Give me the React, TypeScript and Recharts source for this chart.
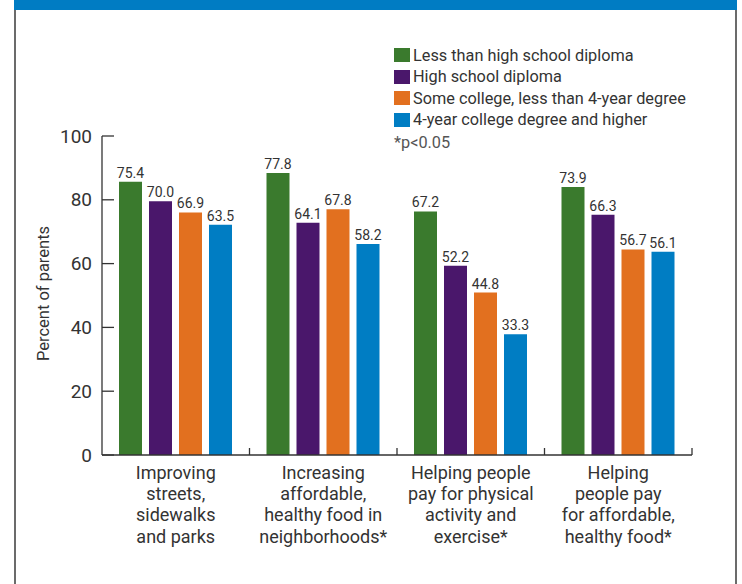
import React from 'react';
import { BarChart, Bar, XAxis, YAxis, LabelList, Legend } from 'recharts';

const categories = [
  'Improving streets, sidewalks and parks',
  'Increasing affordable, healthy food in neighborhoods*',
  'Helping people pay for physical activity and exercise*',
  'Helping people pay for affordable, healthy food*',
];
const categoryLines: Record<string, string[]> = {
  'Improving streets, sidewalks and parks': ['Improving', 'streets,', 'sidewalks', 'and parks'],
  'Increasing affordable, healthy food in neighborhoods*': ['Increasing', 'affordable,', 'healthy food in', 'neighborhoods*'],
  'Helping people pay for physical activity and exercise*': ['Helping people', 'pay for physical', 'activity and', 'exercise*'],
  'Helping people pay for affordable, healthy food*': ['Helping', 'people pay', 'for affordable,', 'healthy food*'],
};

const lessThanHighSchool = [75.4, 77.8, 67.2, 73.9];
const highSchoolDiploma = [70.0, 64.1, 52.2, 66.3];
const someCollege = [66.9, 67.8, 44.8, 56.7];
const collegeDegree = [63.5, 58.2, 33.3, 56.1];

const seriesNames = [
  'Less than high school diploma',
  'High school diploma',
  'Some college, less than 4-year degree',
  '4-year college degree and higher',
];
const seriesColors = ['#3A7A2D', '#4A176B', '#E2701F', '#007DC3'];
const footnote = '*p<0.05';
const yAxisTitle = 'Percent of parents';

const yTickLabels = [0, 20, 40, 60, 80, 100];
// bars in the reference are drawn on a scale whose top tick (labelled 100) sits at ~88
const barScaleMax = 88;
const yTickValues = yTickLabels.map((t) => (t * barScaleMax) / 100);

const data = categories.map((c, i) => ({
  category: c,
  s0: lessThanHighSchool[i],
  s1: highSchoolDiploma[i],
  s2: someCollege[i],
  s3: collegeDegree[i],
}));
const seriesValues = [lessThanHighSchool, highSchoolDiploma, someCollege, collegeDegree];

const FONT = 'Roboto, "Noto Sans", sans-serif';
const TEXT = '#333333';

const CategoryTick = (props: any) => {
  const { x, y, payload } = props;
  const lines = categoryLines[payload.value] || [String(payload.value)];
  const half = typeof payload.offset === 'number' ? payload.offset : 0;
  return (
    <g>
      {half > 0 && (
        <line x1={x + half} x2={x + half} y1={y} y2={y - 7} stroke={TEXT} strokeWidth={1.3} />
      )}
      <text x={x} y={y} textAnchor="middle" fontSize={18} fill={TEXT} fontFamily={FONT}>
        {lines.map((l, i) => (
          <tspan key={i} x={x} dy={i === 0 ? 23.5 : 21.4}>
            {l}
          </tspan>
        ))}
      </text>
    </g>
  );
};

const ValueTick = (props: any) => {
  const { x, y, payload } = props;
  const label = Math.round((Number(payload.value) * 100) / barScaleMax);
  return (
    <g>
      <line x1={x + 10} x2={x + 22} y1={y} y2={y} stroke={TEXT} strokeWidth={1.3} />
      <text x={x} y={y} dy={6.5} textAnchor="end" fontSize={19} fill={TEXT} fontFamily={FONT}>
        {label}
      </text>
    </g>
  );
};

const AxisTitle = (props: any) => {
  const vb = props.viewBox || {};
  const cx = (vb.x || 0) + 43;
  const cy = (vb.y || 0) + (vb.height || 0) / 2 - 2;
  return (
    <text
      x={cx}
      y={cy}
      transform={`rotate(-90, ${cx}, ${cy})`}
      textAnchor="middle"
      dominantBaseline="central"
      fontSize={16.5}
      fill={TEXT}
      fontFamily={FONT}
    >
      {yAxisTitle}
    </text>
  );
};

const LegendContent = () => (
  <div style={{ fontFamily: FONT, fontSize: 16.3, color: TEXT }}>
    {seriesNames.map((n, i) => (
      <div key={i} style={{ display: 'flex', alignItems: 'center', height: 21.5, whiteSpace: 'nowrap' }}>
        <span style={{ display: 'inline-block', width: 16, height: 14, background: seriesColors[i], marginRight: 3 }} />
        <span>{n}</span>
      </div>
    ))}
    <div style={{ marginTop: 2, color: '#555', whiteSpace: 'nowrap' }}>{footnote}</div>
  </div>
);

export default function App() {
  return (
    <div style={{ position: 'fixed', left: 0, top: 0, width: 742, height: 584, background: '#fff', overflow: 'hidden' }}>
      <div style={{ position: 'absolute', left: 14, top: 0, width: 723, height: 10, background: '#007CC3' }} />
      <div style={{ position: 'absolute', left: 14, top: 10, width: 2, height: 574, background: '#6b6b6b' }} />
      <div style={{ position: 'absolute', left: 735, top: 10, width: 2, height: 574, background: '#6b6b6b' }} />
      <div style={{ position: 'absolute', left: 0, top: 0 }}>
        <BarChart
          width={742}
          height={584}
          data={data}
          margin={{ top: 136, right: 50, bottom: 128, left: 0 }}
          barGap={7}
        >
          <XAxis
            dataKey="category"
            interval={0}
            tickLine={false}
            axisLine={{ stroke: TEXT, strokeWidth: 1.3 }}
            height={1}
            tickSize={0}
            tickMargin={0}
            tick={<CategoryTick />}
          />
          <YAxis
            type="number"
            domain={[0, barScaleMax]}
            ticks={yTickValues}
            interval={0}
            width={102}
            tickSize={0}
            tickMargin={10}
            tickLine={false}
            axisLine={{ stroke: TEXT, strokeWidth: 1.3 }}
            tick={<ValueTick />}
            label={{ content: <AxisTitle /> } as any}
          />
          <Legend
            layout="vertical"
            align="center"
            verticalAlign="middle"
            content={<LegendContent />}
            wrapperStyle={{ top: 44.5, left: 394, width: 330 }}
          />
          {seriesValues.map((_, i) => (
            <Bar
              key={i}
              dataKey={`s${i}`}
              name={seriesNames[i]}
              fill={seriesColors[i]}
              barSize={23}
              isAnimationActive={false}
            >
              <LabelList
                dataKey={`s${i}`}
                position="top"
                offset={4}
                formatter={(v: any) => Number(v).toFixed(1)}
                fontSize={14}
                fill={TEXT}
                fontFamily={FONT}
              />
            </Bar>
          ))}
        </BarChart>
      </div>
    </div>
  );
}
